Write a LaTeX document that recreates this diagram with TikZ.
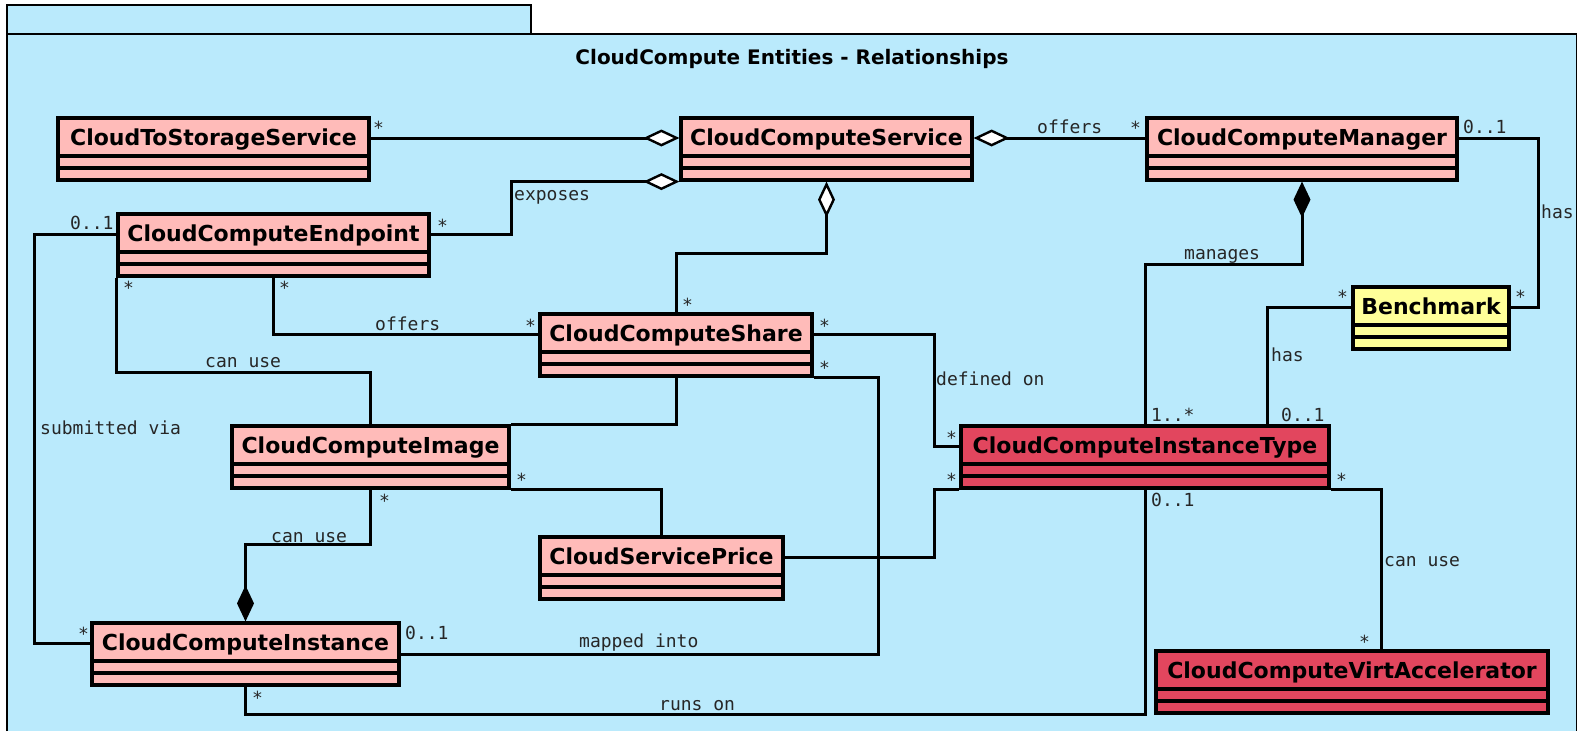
\documentclass[tikz,border=0pt]{standalone}
\usepackage{fontspec}
\usetikzlibrary{arrows.meta}
\newfontfamily\umlsans{DejaVu Sans}
\newfontfamily\umlmono{DejaVu Sans Mono}
\definecolor{pkgblue}{RGB}{186,234,252}
\definecolor{clspink}{RGB}{255,187,185}
\definecolor{clsred}{RGB}{226,70,94}
\definecolor{clsyellow}{RGB}{255,255,153}

\begin{document}
\begin{tikzpicture}
[x=1pt, y=-1pt,
 klass/.style ={rectangle, draw, line width=3.2pt, fill=clspink, font=\umlsans\bfseries\fontsize{22}{26}\selectfont,
  inner sep=0pt, text height=27pt, text depth=35pt, minimum width=#1,
  path picture={\draw[line width=3.2pt]
   ([yshift=-38pt]path picture bounding box.north west) -- ([yshift=-38pt]path picture bounding box.north east)
   ([yshift=-50pt]path picture bounding box.north west) -- ([yshift=-50pt]path picture bounding box.north east);}},
 hotklass/.style ={klass=#1, fill=clsred},
 benchklass/.style ={klass=#1, fill=clsyellow},
 link/.style ={draw, line width=3pt},
 aggr/.style ={link, {Diamond[fill=white, length=36pt, width=17pt, line width=2.4pt]}-},
 comp/.style ={link, {Diamond[length=36pt, width=17pt]}-},
 tag/.style ={font=\umlmono\fontsize{18}{20}\selectfont, text=black!85, inner sep=0pt, anchor=base west},
 caption/.style ={font=\umlsans\bfseries\fontsize{20}{24}\selectfont, inner sep=0pt, anchor=base}]
\useasboundingbox (0,0) rectangle (1577,731);
\fill[white] (0,0) rectangle (1577,731);
% package frame
\filldraw[fill=pkgblue, line width=2.8pt] (7,34) rectangle (531,5);
\fill[pkgblue] (7,34) rectangle (1577,731);
\draw[line width=2.8pt] (7,731) -- (7,34) -- (1577,34) -- (1577,731);
\path (792,64) node[caption] (title) {CloudCompute Entities - Relationships};
% classes
\path (213.5,149) node[klass=311pt] (sto) {CloudToStorageService}
      (826.5,149) node[klass=291pt] (svc) {CloudComputeService}
      (1302,149) node[klass=310pt] (mgr) {CloudComputeManager}
      (273.5,245) node[klass=311pt] (endp) {CloudComputeEndpoint}
      (1431,318) node[benchklass=156pt] (bench) {Benchmark}
      (676,345) node[klass=272pt] (share) {CloudComputeShare}
      (370.5,457) node[klass=277pt] (image) {CloudComputeImage}
      (1145,457) node[hotklass=368pt] (itype) {CloudComputeInstanceType}
      (661.5,568) node[klass=243pt] (price) {CloudServicePrice}
      (245.5,654) node[klass=307pt] (inst) {CloudComputeInstance}
      (1352,682) node[hotklass=392pt] (accel) {CloudComputeVirtAccelerator};
% associations
\draw[aggr] ([yshift=11pt]svc.west) -- ([yshift=11pt]sto.east);
\draw[aggr] ([yshift=11pt]svc.east) -- ([yshift=11pt]mgr.west);
\draw[aggr] (svc.south west) -- ++(-168,0) |- ([yshift=11pt]endp.east);
\draw[aggr] (svc.south) -- ++(0,72) -| (share.north);
\draw[comp] (mgr.south) -- ++(0,83) -| (itype.north);
\draw[link] ([yshift=11pt]mgr.east) -- ++(80,0) |- ([yshift=11pt]bench.east);
\draw[link] ([yshift=11pt]bench.west) -| ([xshift=122pt]itype.north);
\draw[link] (endp.south) |- ([yshift=11pt]share.west);
\draw[link] (endp.south west) -- ++(0,95) -| (image.north);
\draw[link] ([yshift=11pt]endp.west) -- ++(-82,0) |- ([yshift=11pt]inst.west);
\draw[link] (share.south) |- (image.north east);
\draw[link] (image.south east) -| (price.north);
\draw[link] ([yshift=11pt]share.east) -- ++(121,0) |- ([yshift=11pt]itype.west);
\draw[link] (share.south east) -- ++(65,0) |- (inst.east);
\draw[link] ([yshift=11pt]price.east) -- ++(150,0) |- (itype.south west);
\draw[comp] (inst.north) -- ++(0,-77) -| (image.south);
\draw[link] (inst.south) -- ++(0,28) -| (itype.south);
\draw[link] (itype.south east) -| ([xshift=29pt]accel.north);
% roles and multiplicities
\path (373,134) node[tag] (t1) {*}
      (1037,133) node[tag] (t2) {offers}
      (1130,134) node[tag] (t3) {*}
      (1463,133) node[tag] (t4) {0..1}
      (1541,218) node[tag] (t5) {has}
      (1515,303) node[tag] (t6) {*}
      (1337,303) node[tag] (t7) {*}
      (1184,259) node[tag] (t8) {manages}
      (1271,361) node[tag] (t9) {has}
      (1151,421) node[tag] (t10) {1..*}
      (1281,421) node[tag] (t11) {0..1}
      (1336,486) node[tag] (t12) {*}
      (1151,506) node[tag] (t13) {0..1}
      (1384,566) node[tag] (t14) {can use}
      (1359,648) node[tag] (t15) {*}
      (514,200) node[tag] (t16) {exposes}
      (437,232) node[tag] (t17) {*}
      (70,229) node[tag] (t18) {0..1}
      (123,294) node[tag] (t19) {*}
      (279,294) node[tag] (t20) {*}
      (375,330) node[tag] (t21) {offers}
      (525,332) node[tag] (t22) {*}
      (205,367) node[tag] (t23) {can use}
      (40,434) node[tag] (t24) {submitted via}
      (682,311) node[tag] (t25) {*}
      (819,332) node[tag] (t26) {*}
      (819,374) node[tag] (t27) {*}
      (936,385) node[tag] (t28) {defined on}
      (946,444) node[tag] (t29) {*}
      (946,486) node[tag] (t30) {*}
      (516,486) node[tag] (t31) {*}
      (379,507) node[tag] (t32) {*}
      (271,542) node[tag] (t33) {can use}
      (78,640) node[tag] (t34) {*}
      (405,639) node[tag] (t35) {0..1}
      (252,704) node[tag] (t36) {*}
      (579,647) node[tag] (t37) {mapped into}
      (659,710) node[tag] (t38) {runs on};
\end{tikzpicture}
\end{document}
